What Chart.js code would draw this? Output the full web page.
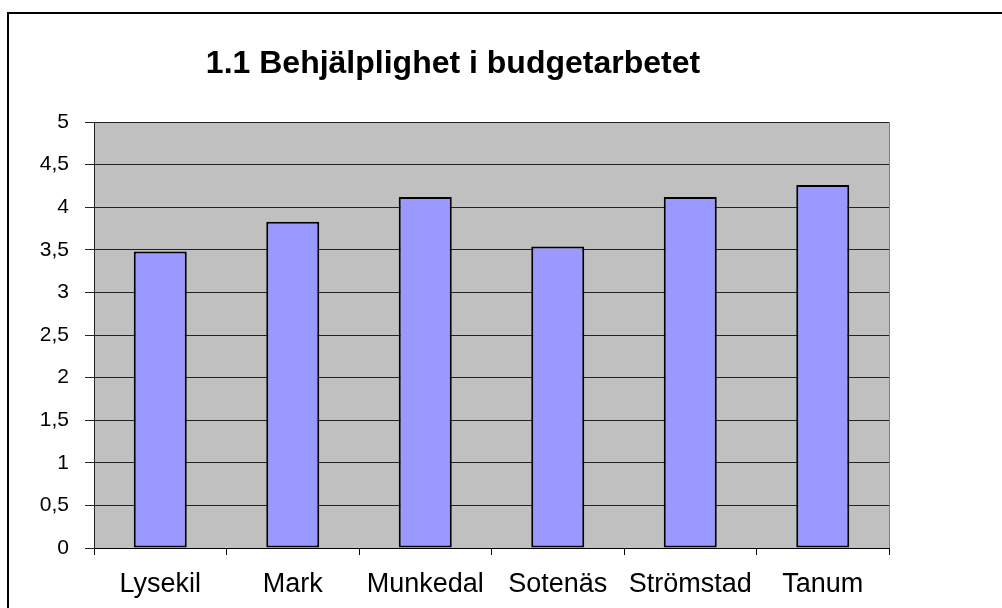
<!DOCTYPE html>
<html>
<head>
<meta charset="utf-8">
<script src="https://cdn.jsdelivr.net/npm/chart.js@4"></script>
<style>
    body { margin: 0; background: #fff; }
    #wrap { position: relative; width: 1002px; height: 608px; overflow: hidden; }
    #frame { position: absolute; left: 7px; top: 12px; width: 1100px; height: 700px;
             border-top: 2px solid #000; border-left: 2px solid #000; }
    canvas { position: absolute; left: 0; top: 0; }
</style>
</head>
<body>
<div id="wrap">
    <div id="frame"></div>
    <canvas id="chart" width="1002" height="608"></canvas>
</div>
<script>
const chartTitle = '1.1 Behjälplighet i budgetarbetet';
const municipalities = ['Lysekil', 'Mark', 'Munkedal', 'Sotenäs', 'Strömstad', 'Tanum'];
const scores = [3.48, 3.83, 4.12, 3.54, 4.12, 4.26];
const yTicks = [0, 0.5, 1, 1.5, 2, 2.5, 3, 3.5, 4, 4.5, 5];

// grey plot background + title
const decor = {
    id: 'decor',
    beforeDraw(chart) {
        const { ctx, chartArea: a } = chart;
        ctx.save();
        ctx.fillStyle = '#c0c0c0';
        ctx.fillRect(a.left, a.top, a.right - a.left, a.bottom - a.top);
        ctx.strokeStyle = '#808080';
        ctx.lineWidth = 1;
        ctx.beginPath();
        ctx.moveTo(a.right + 0.5, a.top);
        ctx.lineTo(a.right + 0.5, a.bottom);
        ctx.stroke();
        ctx.restore();
    },
    afterDraw(chart) {
        const ctx = chart.ctx;
        ctx.save();
        ctx.fillStyle = '#000';
        ctx.font = 'bold 32px "Liberation Sans", Arial, sans-serif';
        ctx.textAlign = 'center';
        ctx.textBaseline = 'middle';
        ctx.fillText(chartTitle, 453, 64);
        ctx.restore();
    }
};

new Chart(document.getElementById('chart').getContext('2d'), {
    type: 'bar',
    data: {
        labels: municipalities,
        datasets: [{
            data: scores,
            backgroundColor: '#9999ff',
            borderColor: '#000',
            borderWidth: 2,
            borderSkipped: false,
            categoryPercentage: 1,
            barPercentage: 0.4
        }]
    },
    options: {
        responsive: false,
        animation: false,
        layout: { padding: { left: 0, top: 122, right: 113, bottom: 0 } },
        plugins: {
            legend: { display: false },
            tooltip: { enabled: false },
            title: { display: false }
        },
        scales: {
            x: {
                offset: true,
                grid: { drawOnChartArea: false, color: '#000', tickLength: 7 },
                border: { color: '#000', width: 1 },
                ticks: {
                    color: '#000',
                    padding: 13,
                    maxRotation: 0,
                    font: { family: '"Liberation Sans", Arial, sans-serif', size: 27 }
                },
                afterFit(scale) { scale.height = 60; }
            },
            y: {
                min: 0,
                max: 5,
                afterBuildTicks(scale) { scale.ticks = yTicks.map(v => ({ value: v })); },
                grid: { color: '#222', lineWidth: 1, tickLength: 9 },
                border: { color: '#222', width: 1 },
                ticks: {
                    color: '#000',
                    padding: 16,
                    font: { family: '"Liberation Sans", Arial, sans-serif', size: 21 },
                    callback: v => String(v).replace('.', ',')
                },
                afterFit(scale) { scale.width = 94; }
            }
        }
    },
    plugins: [decor]
});
</script>
</body>
</html>
